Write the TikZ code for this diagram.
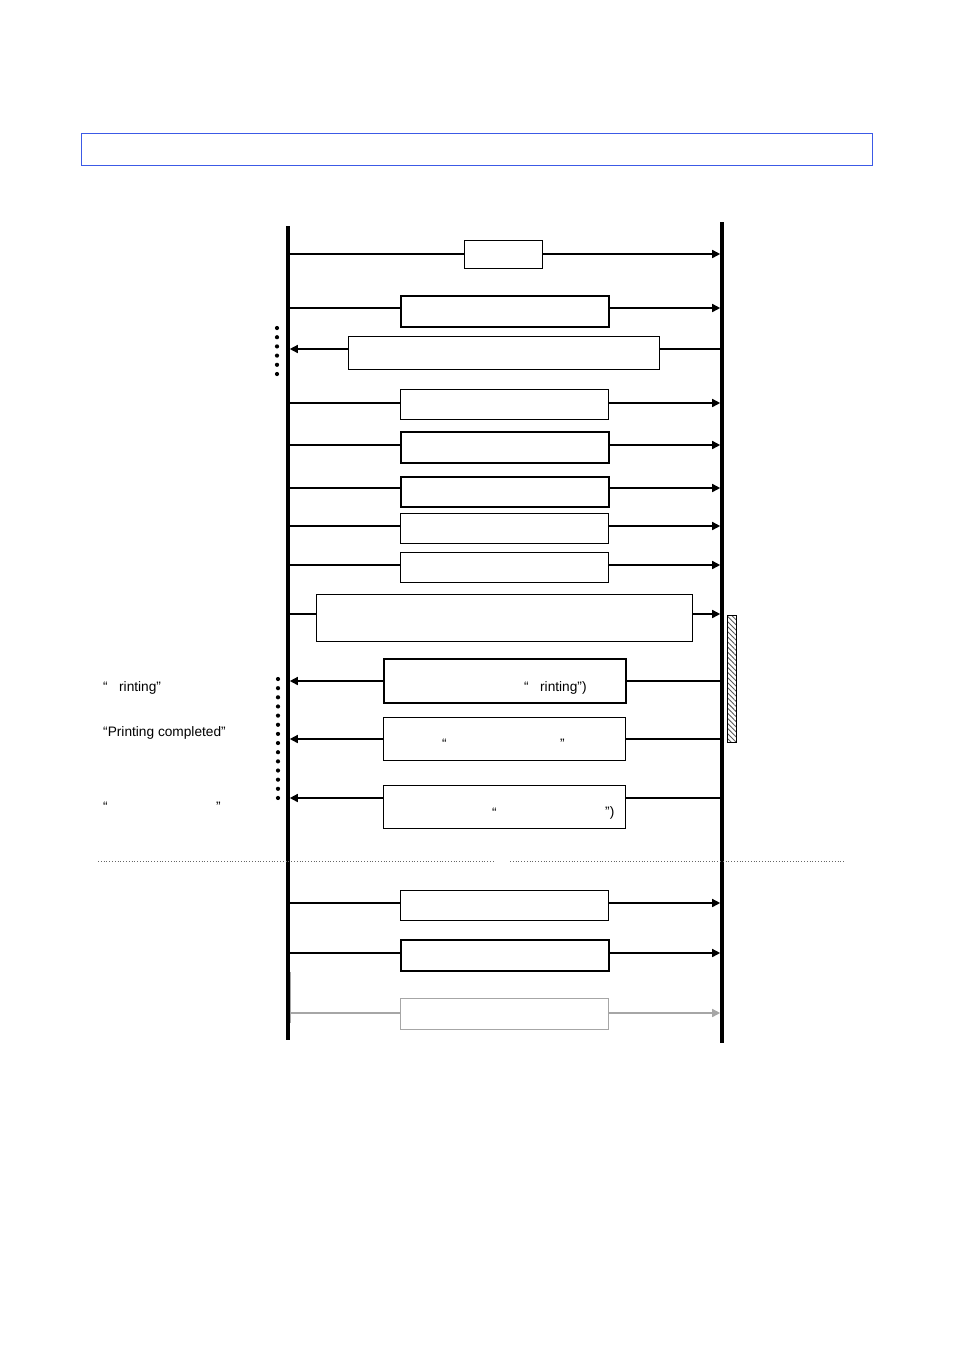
\documentclass[tikz,border=0pt]{standalone}
\usepackage{fontspec}
\setmainfont{Liberation Sans}
\usetikzlibrary{arrows.meta,patterns.meta}
\begin{document}
\begin{tikzpicture}[x=1pt,y=-1pt,
  msgbox/.style={draw=black,line width=1.1pt,fill=white,inner sep=0pt,anchor=north west},
  thickbox/.style={msgbox,line width=1.5pt},
  graybox/.style={msgbox,draw=gray!70},
  msg/.style={line width=1.5pt},
  arr/.style={msg,-{Triangle[length=8pt,width=8pt]}},
  grayarr/.style={line width=1.5pt,draw=gray!70,-{Triangle[length=8pt,width=8pt]},color=gray!70},
  lifeline/.style={line width=3.6pt},
  txt/.style={font=\fontsize{13.7}{15}\selectfont,inner sep=0pt},
  dotfill/.style={fill=black},
  sep/.style={line width=0.8pt,dotted,draw=gray!80!black}]
\useasboundingbox (0,0) rectangle (954,1350);
% title box
\node[draw={rgb,255:red,60;green,90;blue,230},line width=1pt,minimum width=791pt,minimum height=32pt,anchor=north west,inner sep=0pt] (title) at (81,133) {};
% lifelines
\coordinate (LT) at (288,226);
\coordinate (LB) at (288,1040);
\coordinate (RT) at (722,222);
\coordinate (RB) at (722,1043);
\draw[lifeline] (LT) -- (LB);
\draw[lifeline] (RT) -- (RB);
\coordinate (GT) at (290.5,972);
\coordinate (GB) at (290.5,1023);
\draw[line width=1pt,gray!70] (GT) -- (GB);
% boxes
\node[msgbox,minimum width=78pt,minimum height=28pt] (b1) at (464,240) {};
\node[thickbox,minimum width=208pt,minimum height=31pt] (b2) at (400,295) {};
\node[msgbox,minimum width=311pt,minimum height=33pt] (b3) at (348,336) {};
\node[msgbox,minimum width=208pt,minimum height=30pt] (b4) at (400,389) {};
\node[thickbox,minimum width=208pt,minimum height=31pt] (b5) at (400,431) {};
\node[thickbox,minimum width=208pt,minimum height=30pt] (b6) at (400,476) {};
\node[msgbox,minimum width=208pt,minimum height=30pt] (b7) at (400,513) {};
\node[msgbox,minimum width=208pt,minimum height=30pt] (b8) at (400,552) {};
\node[msgbox,minimum width=376pt,minimum height=47pt] (b9) at (316,594) {};
\node[thickbox,minimum width=242pt,minimum height=44pt] (b10) at (383,658) {};
\node[msgbox,minimum width=242pt,minimum height=43pt] (b11) at (383,717) {};
\node[msgbox,minimum width=242pt,minimum height=43pt] (b12) at (383,785) {};
\node[msgbox,minimum width=208pt,minimum height=30pt] (b13) at (400,890) {};
\node[thickbox,minimum width=208pt,minimum height=31pt] (b14) at (400,939) {};
\node[graybox,minimum width=208pt,minimum height=31pt] (b15) at (400,998) {};
% message y coordinates on lifelines
\foreach \n/\y in {1/254,2/308,3/349,4/403,5/445,6/488,7/526,8/565,9/614,10/681,11/739,12/798,13/903,14/953,15/1013}{
  \coordinate (L\n) at (289.8,\y);
  \coordinate (R\n) at (720.2,\y);
}
% rightward messages
\foreach \n in {1,2,4,5,6,7,8,9,13,14}{
  \draw[msg] (L\n) -- (L\n -| b\n.west);
  \draw[arr] (R\n -| b\n.east) -- (R\n);
}
% leftward messages
\foreach \n in {3,10,11,12}{
  \draw[msg] (R\n) -- (R\n -| b\n.east);
  \draw[arr] (L\n -| b\n.west) -- (L\n);
}
% gray message
\draw[line width=1.5pt,gray!70] (L15) -- (L15 -| b15.west);
\draw[grayarr] (R15 -| b15.east) -- (R15);
% hatched activation bar
\node[draw=black,line width=0.8pt,pattern={Lines[angle=-45,distance=3.6pt,line width=0.9pt]},pattern color=gray!70!black,minimum width=9pt,minimum height=127pt,anchor=north west,inner sep=0pt] (act) at (727,615) {};
% dots
\foreach \i in {0,...,5}{
  \fill[dotfill] (277,328+9.2*\i) circle (2.1pt);
}
\foreach \i in {0,...,13}{
  \fill[dotfill] (278,679+9.15*\i) circle (2.1pt);
}
% separator
\coordinate (S1) at (98,861);
\coordinate (S2) at (494,861);
\coordinate (S3) at (510,861);
\coordinate (S4) at (845,861);
\draw[sep] (S1) -- (S2);
\draw[sep] (S3) -- (S4);
% texts in boxes
\node[txt,anchor=west] (t10) at (524,688) {“\ \ \ rinting”)};
\node[txt,anchor=west] (t11a) at (442,744) {“};
\node[txt,anchor=west] (t11b) at (560,744) {”};
\node[txt,anchor=west] (t12a) at (492,813) {“};
\node[txt,anchor=west] (t12b) at (605,813) {”)};
% left texts
\node[txt,anchor=west] (l1) at (103,688) {“\ \ \ rinting”};
\node[txt,anchor=west] (l2) at (103,733) {“Printing completed”};
\node[txt,anchor=west] (l3a) at (103,807) {“};
\node[txt,anchor=west] (l3b) at (216,807) {”};
\end{tikzpicture}
\end{document}
